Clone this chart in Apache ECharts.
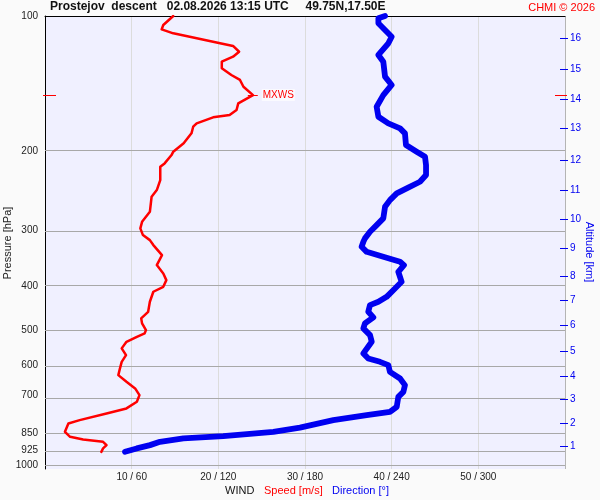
<!DOCTYPE html>
<html>
<head>
<meta charset="utf-8">
<script src="https://cdn.jsdelivr.net/npm/echarts@6/dist/echarts.min.js"></script>
<style>
html,body{margin:0;padding:0;background:#fafafa;}
#chart{width:600px;height:500px;}
</style>
</head>
<body>
<div id="chart"></div>
<script>
// ---- data ----
const titleText = 'Prostejov  descent   02.08.2026 13:15 UTC     49.75N,17.50E';
const pressureTicks = [100, 200, 300, 400, 500, 600, 700, 850, 925, 1000];
const speedTicks = [10, 20, 30, 40, 50];
const dirTicks = [60, 120, 180, 240, 300];
const altitudeKm = [1, 2, 3, 4, 5, 6, 7, 8, 9, 10, 11, 12, 13, 14, 15, 16];
const altitudePressure = [905.7, 806.3, 714.0, 633.8, 557.4, 487.8, 429.8, 379.4, 328.1, 283.6, 244.1, 209.3, 177.9, 153.3, 131.2, 112.1];

const speedPressure = [100,104.7,107.1,109.3,111.2,115.0,116.6,120.1,123.2,126.4,130.7,135.3,138.8,143.7,150.0,156.5,161.9,166.1,168.1,173.4,176.4,182.5,192.1,200.5,204.0,212.9,216.6,231.9,244.1,252.6,272.9,287.3,297.1,307.5,315.5,323.6,340.7,358.6,374.2,387.3,400.8,411.1,432.8,455.6,471.3,483.5,500.4,509.0,517.9,531.3,549.6,568.9,588.8,609.0,630.4,652.4,674.9,698.5,722.8,747.7,767.2,794.0,807.5,842.9,864.9,876.4,887.4,902.5,917.9,934.1];
const speedValues = [14.8,13.65,13.46,14.8,16.7,20.2,21.7,22.4,21.7,20.4,20.4,21.5,22.5,22.9,24.0,22.3,22.1,21.3,19.4,17.5,17.1,16.9,16.0,14.8,14.6,13.8,13.3,13.3,12.9,12.3,12.1,11.2,11.0,11.3,12.1,12.5,13.5,12.9,13.65,14.0,13.65,12.5,12.1,11.9,11.1,11.2,11.65,11.5,10.6,9.4,8.85,9.35,8.85,8.65,8.46,9.4,10.4,10.9,10.6,9.4,7.1,4.0,2.7,2.3,2.9,4.4,6.7,7.1,6.7,6.5];

const dirPressure = [100,101.2,103.8,111.2,115.0,122.1,126.4,136.5,142.4,150.0,159.2,167.6,173.4,177.9,182.5,193.8,200.5,205.8,214.7,226.0,233.9,242.0,248.3,257.0,266.0,282.2,292.1,302.3,312.7,318.2,326.5,335.0,343.6,352.5,358.6,371.1,390.7,404.2,422.0,432.8,440.2,455.6,468.8,483.5,496.0,513.4,531.3,563.9,578.6,588.8,599.0,619.8,641.2,663.6,686.8,704.7,741.7,761.0,774.1,794.0,825.0,842.9,861.7,872.0,887.4,902.5,917.9,934.1];
const dirValues = [235.4,230.8,230.8,240.0,237.7,230.8,234.2,235.4,240.0,234.2,229.6,230.8,237.7,245.8,249.2,249.9,257.3,263.1,263.8,263.8,259.6,250.4,243.5,238.8,235.4,234.2,229.6,225.0,221.5,220.4,219.2,222.7,234.2,245.8,248.5,244.6,246.9,242.3,236.5,230.8,225.0,223.8,227.3,221.5,220.4,225.0,226.2,220.4,223.8,231.9,237.7,238.8,245.8,249.2,248.1,244.6,243.5,238.8,222.7,199.6,176.5,158.1,123.4,95.8,79.6,72.7,63.5,55.4];

// ---- derived ----
const lg = Math.log10;
const pMin = 100, pMax = 1020;
const speedData = speedPressure.map((p, i) => [speedValues[i], lg(p)]);
const dirData = dirPressure.map((p, i) => [dirValues[i], lg(p)]);
const altLogs = altitudePressure.map(lg);
let mxIdx = 0;
speedValues.forEach((v, i) => { if (v > speedValues[mxIdx]) mxIdx = i; });
const mxSpeed = speedValues[mxIdx];
const mxLog = lg(speedPressure[mxIdx]);

const FONT = "'Liberation Sans', Arial, sans-serif";
const RED = '#ff0000';
const BLUE = '#0000f0';

const chart = echarts.init(document.getElementById('chart'), null, {renderer: 'canvas'});
chart.setOption({
  animation: false,
  backgroundColor: '#fafafa',
  textStyle: {fontFamily: FONT},
  grid: {left: 45, right: 35, top: 16, bottom: 31, show: true, backgroundColor: '#f0f0ff', borderWidth: 0, containLabel: false, outerBoundsMode: 'none'},
  xAxis: [
    {
      type: 'value', min: 0, max: 60, interval: 10, position: 'bottom',
      axisLine: {show: false}, axisTick: {show: false},
      axisLabel: {
        customValues: speedTicks, margin: 3, fontSize: 10, color: '#222', fontFamily: FONT,
        formatter: v => v + ' / ' + dirTicks[speedTicks.indexOf(v)]
      },
      splitLine: {show: true, lineStyle: {width: 1, color: ['#dcdcdc','#dcdcdc','#dcdcdc','#dcdcdc','#dcdcdc','#dcdcdc','#b4b4b4']}}
    },
    {
      type: 'value', min: 0, max: 360, position: 'top',
      axisLine: {show: true, onZero: false, lineStyle: {color: '#000', width: 1}},
      axisTick: {show: false}, axisLabel: {show: false}, splitLine: {show: false}
    }
  ],
  yAxis: [
    {
      type: 'value', inverse: true, min: lg(pMin), max: lg(pMax), position: 'left',
      axisLine: {show: true, onZero: false, lineStyle: {color: '#000', width: 1}},
      axisTick: {show: false},
      axisLabel: {customValues: pressureTicks.map(lg), margin: 7, fontSize: 10, color: '#222', fontFamily: FONT,
        formatter: v => String(Math.round(Math.pow(10, v)))},
      splitLine: {show: false}
    },
    {
      type: 'value', inverse: true, min: lg(pMin), max: lg(pMax), position: 'right', offset: 0,
      axisLine: {show: false},
      axisTick: {show: false},
      axisLabel: {customValues: altLogs, margin: 5, fontSize: 10, color: BLUE, fontFamily: FONT,
        formatter: v => { const i = altLogs.findIndex(l => Math.abs(l - v) < 1e-6); return i >= 0 ? String(altitudeKm[i]) : ''; }},
      splitLine: {show: false}
    }
  ],
  series: [
    {
      type: 'line', name: 'grid', data: [], z: 1, silent: true,
      markLine: {
        silent: true, symbol: 'none', z: 1, animation: false,
        label: {show: false},
        lineStyle: {color: '#a8a8a8', type: 'solid', width: 1},
        emphasis: {disabled: true},
        data: pressureTicks.slice(1).map(p => ({yAxis: lg(p)}))
      }
    },
    {
      type: 'line', name: 'Direction', xAxisIndex: 1, yAxisIndex: 0, data: dirData, z: 3,
      showSymbol: false, symbol: 'none', smooth: false,
      lineStyle: {color: BLUE, width: 5.8, cap: 'round', join: 'round'}
    },
    {
      type: 'line', name: 'Speed', xAxisIndex: 0, yAxisIndex: 0, data: speedData, z: 4,
      showSymbol: false, symbol: 'none', smooth: false,
      lineStyle: {color: RED, width: 2.5, cap: 'round', join: 'round'},
      markLine: {
        silent: true, symbol: 'none', animation: false,
        lineStyle: {color: RED, type: 'solid', width: 1},
        label: {show: true, position: 'end', formatter: 'MXWS', color: RED, fontSize: 10, fontFamily: FONT,
          distance: 4, backgroundColor: '#fafaff', padding: [1, 1]},
        emphasis: {disabled: true},
        data: [[{coord: [mxSpeed - 0.6, mxLog]}, {coord: [mxSpeed + 0.55, mxLog]}]]
      }
    },
    {
      type: 'custom', name: 'MXWS level', xAxisIndex: 0, yAxisIndex: 0, z: 5, silent: true, clip: false,
      data: [[mxSpeed, mxLog]],
      renderItem: (params, api) => {
        const l = api.coord([0, api.value(1)]);
        const r = api.coord([60, api.value(1)]);
        const y = Math.round(l[1]) + 0.5;
        return {type: 'group', children: [
          {type: 'line', shape: {x1: l[0] - 2, y1: y, x2: l[0] + 11, y2: y}, style: {stroke: RED, lineWidth: 1}},
          {type: 'line', shape: {x1: r[0] - 10, y1: y, x2: r[0] + 2, y2: y}, style: {stroke: RED, lineWidth: 1}}
        ]};
      }
    },
    {
      type: 'custom', name: 'Altitude ticks', xAxisIndex: 0, yAxisIndex: 0, z: 5, silent: true, clip: false,
      data: altLogs.map(l => [60, l]),
      renderItem: (params, api) => {
        const p = api.coord([api.value(0), api.value(1)]);
        const y = Math.round(p[1]) + 0.5;
        return {type: 'line', shape: {x1: p[0] - 5, y1: y, x2: p[0] + 3, y2: y}, style: {stroke: BLUE, lineWidth: 1}};
      }
    }
  ],
  graphic: [
    {type: 'text', left: 50, top: 1, style: {text: titleText, font: "bold 12px " + FONT, fill: '#111'}},
    {type: 'text', right: 5, top: 2, style: {text: 'CHMI © 2026', font: "11px " + FONT, fill: RED}},
    {type: 'text', x: 7.5, y: 243, rotation: Math.PI / 2,
      style: {text: 'Pressure [hPa]', font: "11px " + FONT, fill: '#222', align: 'center', verticalAlign: 'middle'}},
    {type: 'text', x: 589, y: 252, rotation: -Math.PI / 2,
      style: {text: 'Altitude [km]', font: "11px " + FONT, fill: BLUE, align: 'center', verticalAlign: 'middle'}},
    {type: 'text', x: 225, y: 491, style: {text: 'WIND', font: "11px " + FONT, fill: '#111', verticalAlign: 'middle'}},
    {type: 'text', x: 264, y: 491, style: {text: 'Speed [m/s]', font: "11px " + FONT, fill: RED, verticalAlign: 'middle'}},
    {type: 'text', x: 332, y: 491, style: {text: 'Direction [°]', font: "11px " + FONT, fill: BLUE, verticalAlign: 'middle'}}
  ]
});
</script>
</body>
</html>
